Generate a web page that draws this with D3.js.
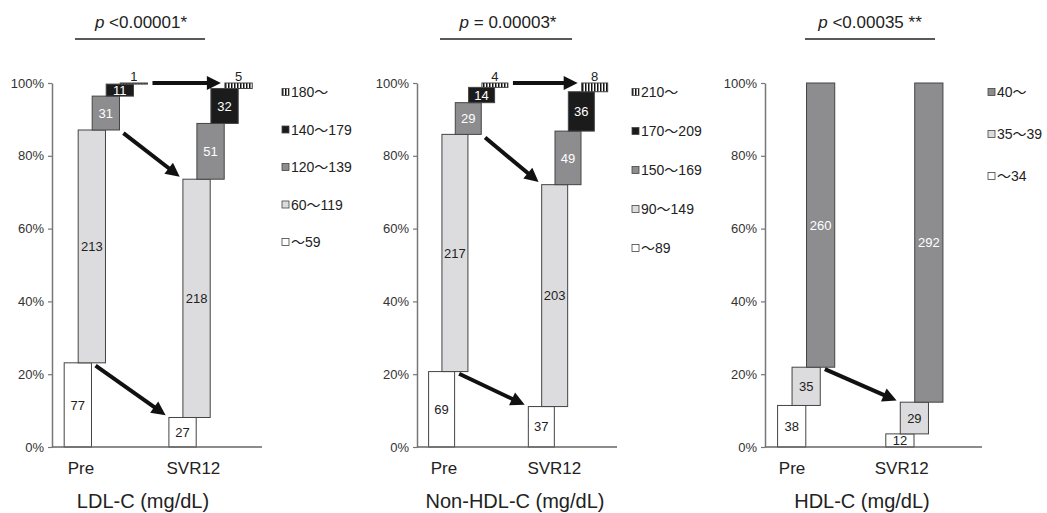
<!DOCTYPE html>
<html>
<head>
<meta charset="utf-8">
<script src="https://cdn.jsdelivr.net/npm/d3@7"></script>
<style>
  body { margin: 0; background: #fff; }
  svg { display: block; font-family: 'Liberation Sans', Arial, sans-serif; }
</style>
</head>
<body>
<svg id="chart" width="1047" height="513"></svg>
<script>
// patient counts per class, Pre vs SVR12
const ldlLevels = ['～59', '60～119', '120～139', '140～179', '180～'];
const ldlPre = [77, 213, 31, 11, 1];
const ldlSvr = [27, 218, 51, 32, 5];

const nonHdlLevels = ['～89', '90～149', '150～169', '170～209', '210～'];
const nonHdlPre = [69, 217, 29, 14, 4];
const nonHdlSvr = [37, 203, 49, 36, 8];

const hdlLevels = ['～34', '35～39', '40～'];
const hdlPre = [38, 35, 260];
const hdlSvr = [12, 29, 292];

const timepoints = ['Pre', 'SVR12'];
const yTicks = [0, 0.2, 0.4, 0.6, 0.8, 1];
const pValues = ['<0.00001*', '= 0.00003*', '<0.00035 **'];
const titles = ['LDL-C (mg/dL)', 'Non-HDL-C (mg/dL)', 'HDL-C (mg/dL)'];

const kinds5 = ['white', 'light', 'gray', 'black', 'hatch'];
const kinds3 = ['white', 'light', 'gray'];

const panels = [
  {levels: ldlLevels, pre: ldlPre, svr: ldlSvr, kinds: kinds5, p: pValues[0], title: titles[0],
    left: 52, right: 262, legendX: 282, legendStep: 37.5, pX: 141, lineX: [75, 205], titleX: 143,
    labelOff: [1.2, 1.75],
    arrows: [{from: [0, 0, 'right', 'y1'], to: [1, 0, 'left', 'y1']},
             {from: [0, 2, 'right', 'y0'], to: [1, 1, 'left', 'y1']},
             {from: [0, 4, 'right', 'y1'], to: [1, 4, 'left', 'y1']}]},
  {levels: nonHdlLevels, pre: nonHdlPre, svr: nonHdlSvr, kinds: kinds5, p: pValues[1], title: titles[1],
    left: 417, right: 617, legendX: 632, legendStep: 39, pX: 508, lineX: [440, 572], titleX: 515,
    labelOff: [1.15, 1.95],
    arrows: [{from: [0, 0, 'right', 'y1'], to: [1, 0, 'left', 'y1']},
             {from: [0, 2, 'right', 'y0'], to: [1, 1, 'left', 'y1']},
             {from: [0, 4, 'right', 'y1'], to: [1, 4, 'left', 'y1']}]},
  {levels: hdlLevels, pre: hdlPre, svr: hdlSvr, kinds: kinds3, p: pValues[2], title: titles[2],
    left: 765, right: 982, legendX: 988, legendStep: 42, pX: 870, lineX: [805, 935], titleX: 862,
    labelOff: [1.0, 1.1],
    arrows: [{from: [0, 1, 'right', 'y1'], to: [1, 1, 'left', 'y1']}]}
];

const fills = {white: '#ffffff', light: '#dcdcde', gray: '#8d8d90', black: '#1b1b1b', hatch: 'url(#hatch)'};
const textFill = {white: '#222', light: '#222', gray: '#fff', black: '#fff', hatch: '#222'};
const groupStart = [0.87, 8.35];

const svg = d3.select('#chart');

const hatch = svg.append('defs').append('pattern')
  .attr('id', 'hatch')
  .attr('patternUnits', 'userSpaceOnUse')
  .attr('width', 3)
  .attr('height', 4);
hatch.append('rect').attr('width', 3).attr('height', 4).attr('fill', '#fff');
hatch.append('rect').attr('width', 1.5).attr('height', 4).attr('fill', '#111');

const y = d3.scaleLinear().domain([0, 1]).range([447, 83]);

panels.forEach(drawPanel);

function drawPanel(p) {
  const x = d3.scaleLinear().domain([0, 15]).range([p.left, p.right]);
  const g = svg.append('g');

  // stacked, staircase-shifted bars
  const bars = [];
  [p.pre, p.svr].forEach((vals, gi) => {
    const total = d3.sum(vals);
    let cum = 0;
    vals.forEach((v, i) => {
      const y0 = cum / total;
      cum += v;
      bars.push({gi, i, v, y0, y1: cum / total, kind: p.kinds[i],
        x0: x(groupStart[gi] + i), x1: x(groupStart[gi] + i + 1.95)});
    });
  });

  // y axis
  const yAxis = g.append('g')
    .attr('transform', 'translate(' + p.left + ',0)')
    .call(d3.axisLeft(y)
      .tickValues(yTicks)
      .tickFormat(d3.format('.0%'))
      .tickSize(4)
      .tickSizeOuter(0)
      .tickPadding(4));
  yAxis.select('.domain').attr('stroke', '#777').attr('stroke-width', 1.5);
  yAxis.selectAll('.tick line').attr('stroke', '#777').attr('stroke-width', 1.2);
  yAxis.selectAll('.tick text')
    .attr('font-size', 13)
    .attr('font-family', "'Liberation Sans', Arial, sans-serif")
    .attr('fill', '#333');

  g.selectAll('.bar')
    .data(bars)
    .enter()
    .append('rect')
    .attr('class', 'bar')
    .attr('x', d => d.x0)
    .attr('y', d => y(d.y1))
    .attr('width', d => d.x1 - d.x0)
    .attr('height', d => Math.max(1, y(d.y0) - y(d.y1)))
    .attr('fill', d => fills[d.kind])
    .attr('stroke', '#444')
    .attr('stroke-width', 1);

  // x axis baseline
  g.append('line')
    .attr('x1', p.left).attr('x2', p.right)
    .attr('y1', y(0)).attr('y2', y(0))
    .attr('stroke', '#666')
    .attr('stroke-width', 1.5);

  // counts
  g.selectAll('.count')
    .data(bars)
    .enter()
    .append('text')
    .attr('class', 'count')
    .attr('x', d => (d.x0 + d.x1) / 2)
    .attr('y', d => d.kind === 'hatch' ? y(d.y1) - 2 : y((d.y0 + d.y1) / 2))
    .attr('dy', d => d.kind === 'hatch' ? 0 : '0.36em')
    .attr('text-anchor', 'middle')
    .attr('font-size', 13)
    .attr('fill', d => textFill[d.kind])
    .text(d => d.v);

  // arrows
  const corner = ([gi, i, side, edge]) => {
    const b = bars.find(d => d.gi === gi && d.i === i);
    return [side === 'right' ? b.x1 : b.x0, y(b[edge])];
  };
  p.arrows.forEach(a => {
    const [sx, sy] = corner(a.from);
    const [ex, ey] = corner(a.to);
    const len = Math.hypot(ex - sx, ey - sy);
    const ux = (ex - sx) / len, uy = (ey - sy) / len;
    const ax = sx + ux * 5, ay = sy + uy * 5;
    const tx = ex - ux * 4, ty = ey - uy * 4;
    const hx = tx - ux * 14, hy = ty - uy * 14;
    g.append('line')
      .attr('x1', ax).attr('y1', ay)
      .attr('x2', hx + ux).attr('y2', hy + uy)
      .attr('stroke', '#111')
      .attr('stroke-width', 4);
    g.append('path')
      .attr('d', d3.line()([[tx, ty], [hx - uy * 7, hy + ux * 7], [hx + uy * 7, hy - ux * 7]]) + 'Z')
      .attr('fill', '#111');
  });

  // time point labels
  g.selectAll('.tp')
    .data(timepoints)
    .enter()
    .append('text')
    .attr('x', (d, gi) => x(groupStart[gi] + p.labelOff[gi]))
    .attr('y', 474)
    .attr('text-anchor', 'middle')
    .attr('font-size', 17)
    .attr('fill', '#222')
    .text(d => d);

  // title below
  g.append('text')
    .attr('x', p.titleX)
    .attr('y', 508)
    .attr('text-anchor', 'middle')
    .attr('font-size', 20)
    .attr('fill', '#222')
    .text(p.title);

  // p value with bar
  const pt = g.append('text')
    .attr('x', p.pX)
    .attr('y', 28)
    .attr('text-anchor', 'middle')
    .attr('font-size', 17)
    .attr('fill', '#222');
  pt.append('tspan').attr('font-style', 'italic').text('p ');
  pt.append('tspan').text(p.p);
  g.append('line')
    .attr('x1', p.lineX[0]).attr('x2', p.lineX[1])
    .attr('y1', 39).attr('y2', 39)
    .attr('stroke', '#222')
    .attr('stroke-width', 1.5);

  // legend, highest class on top
  const legend = g.selectAll('.lg')
    .data(p.levels.map((t, i) => ({t, kind: p.kinds[i]})).reverse())
    .enter()
    .append('g')
    .attr('transform', (d, k) => 'translate(' + p.legendX + ',' + (92 + k * p.legendStep) + ')');
  legend.append('rect')
    .attr('x', 0).attr('y', -3.5)
    .attr('width', 7).attr('height', 7)
    .attr('fill', d => fills[d.kind])
    .attr('stroke', '#444')
    .attr('stroke-width', 0.8);
  const lt = legend.append('text')
    .attr('x', 9)
    .attr('dy', '0.36em')
    .attr('font-size', 14)
    .attr('fill', '#222');
  // full-width wave dash from the CJK font, digits from Liberation
  lt.selectAll('tspan')
    .data(d => d.t.split(/(～)/).filter(s => s))
    .enter()
    .append('tspan')
    .attr('font-family', s => s === '～' ? "'Noto Sans CJK JP'" : null)
    .text(s => s);
}
</script>
</body>
</html>
